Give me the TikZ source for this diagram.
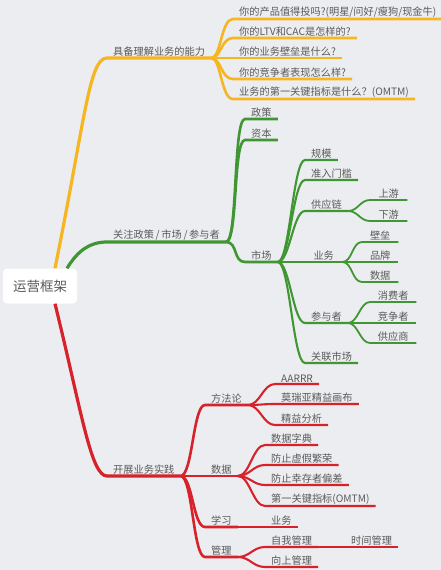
\documentclass[tikz,border=0pt]{standalone}
\usepackage{fontspec}
\setmainfont{Noto Sans CJK SC}
\definecolor{bgray}{HTML}{ECEDF0}
\definecolor{txt}{HTML}{5A5A5A}
\definecolor{ylw}{HTML}{F5B622}
\definecolor{grn}{HTML}{3F9633}
\definecolor{rd}{HTML}{D8222B}
\tikzset{
  topic/.style={anchor=south west, inner xsep=6pt, inner ysep=1.8pt, text=txt, font=\fontsize{10.2}{12}\selectfont},
  rootbox/.style={fill=white, rounded corners=4pt, minimum width=74pt, minimum height=35pt, text=txt, font=\fontsize{13.5}{15}\selectfont},
  lvl1/.style={line width=3.2pt},
  lvl2/.style={line width=2.6pt},
  lvl3/.style={line width=2.1pt},
  lvl4/.style={line width=1.8pt},
}

\begin{document}
\begin{tikzpicture}[x=1pt,y=-1pt]
\fill[bgray] (0,0) rectangle (441,570);
\useasboundingbox (0,0) rectangle (441,570);

% root
\node[rootbox] (root) at (40,286) {运营框架};

% yellow branch
\node[topic] (ability) at (107,58) {具备理解业务的能力};
\node[topic] (q1) at (233,19) {你的产品值得投吗?(明星/问好/瘦狗/现金牛)};
\node[topic] (q2) at (233,38) {你的LTV和CAC是怎样的?};
\node[topic] (q3) at (233,58) {你的业务壁垒是什么?};
\node[topic] (q4) at (233,79) {你的竞争者表现怎么样?};
\node[topic] (q5) at (233,99) {业务的第一关键指标是什么？(OMTM)};

% green branch
\node[topic] (focus) at (107,242) {关注政策\,/\,市场\,/\,参与者};
\node[topic] (policy) at (245,119) {政策};
\node[topic] (capital) at (245,140) {资本};
\node[topic] (market) at (245,262) {市场};
\node[topic] (scale) at (305,160) {规模};
\node[topic] (entry) at (305,180) {准入门槛};
\node[topic] (supply) at (305,211) {供应链};
\node[topic, minimum width=37pt] (up) at (370,200) {上游};
\node[topic, minimum width=37pt] (down) at (370,221) {下游};
\node[topic, minimum width=37pt] (biz) at (305,262) {业务};
\node[topic, minimum width=36pt] (moat) at (362,242) {壁垒};
\node[topic, minimum width=36pt] (brand) at (362,262) {品牌};
\node[topic, minimum width=36pt] (data) at (362,282) {数据};
\node[topic] (player) at (305,323) {参与者};
\node[topic, minimum width=46pt] (consumer) at (370,302) {消费者};
\node[topic, minimum width=46pt] (rival) at (370,323) {竞争者};
\node[topic, minimum width=46pt] (vendor) at (370,343) {供应商};
\node[topic] (related) at (305,363) {关联市场};

% red branch
\node[topic] (practice) at (107,476) {开展业务实践};
\node[topic] (method) at (205,405) {方法论};
\node[topic] (aarrr) at (275,384) {AARRR};
\node[topic] (canvas) at (275,404) {莫瑞亚精益画布};
\node[topic] (lean) at (275,425) {精益分析};
\node[topic] (stats) at (205,476) {数据};
\node[topic] (dict) at (265,445) {数据字典};
\node[topic] (vanity) at (265,465) {防止虚假繁荣};
\node[topic] (survivor) at (265,485) {防止幸存者偏差};
\node[topic] (omtm) at (265,506) {第一关键指标(OMTM)};
\node[topic] (learn) at (205,527) {学习};
\node[topic] (lbiz) at (265,527) {业务};
\node[topic] (manage) at (205,557) {管理};
\node[topic] (self) at (265,547) {自我管理};
\node[topic] (time) at (345,547) {时间管理};
\node[topic] (upward) at (265,567) {向上管理};

% connectors
\draw[ylw,lvl1] ([xshift=15pt]root.north) .. controls +(30,-148) and +(-18,0) .. (ability.south west) -- (ability.south east);
\foreach \n in {q1,q2,q3,q4,q5}
  \draw[ylw,lvl2] (ability.south east) .. controls +(10,0) and +(-12,0) .. (\n.south west) -- (\n.south east);

\draw[grn,lvl1] ([xshift=27pt]root.north) .. controls +(11,-18) and +(-17,0) .. (focus.south west) -- (focus.south east);
\foreach \n in {policy,capital,market}
  \draw[grn,lvl2] (focus.south east) .. controls +(12,0) and +(-12,0) .. (\n.south west) -- (\n.south east);
\foreach \n in {scale,entry,supply,biz,player,related}
  \draw[grn,lvl3] (market.south east) .. controls +(12,0) and +(-12,0) .. (\n.south west) -- (\n.south east);
\foreach \a/\n in {supply/up,supply/down,biz/moat,biz/brand,biz/data,player/consumer,player/rival,player/vendor}
  \draw[grn,lvl4] (\a.south east) .. controls +(10,0) and +(-10,0) .. (\n.south west) -- (\n.south east);

\draw[rd,lvl1] ([xshift=15pt]root.south) .. controls +(27,110) and +(-16,0) .. (practice.south west) -- (practice.south east);
\foreach \n in {method,stats,learn,manage}
  \draw[rd,lvl2] (practice.south east) .. controls +(12,0) and +(-12,0) .. (\n.south west) -- (\n.south east);
\foreach \a/\n in {method/aarrr,method/canvas,method/lean,stats/dict,stats/vanity,stats/survivor,stats/omtm,learn/lbiz,manage/self,manage/upward}
  \draw[rd,lvl3] (\a.south east) .. controls +(12,0) and +(-12,0) .. (\n.south west) -- (\n.south east);
\draw[rd,lvl4] (self.south east) -- (time.south west) -- (time.south east);
\end{tikzpicture}
\end{document}
